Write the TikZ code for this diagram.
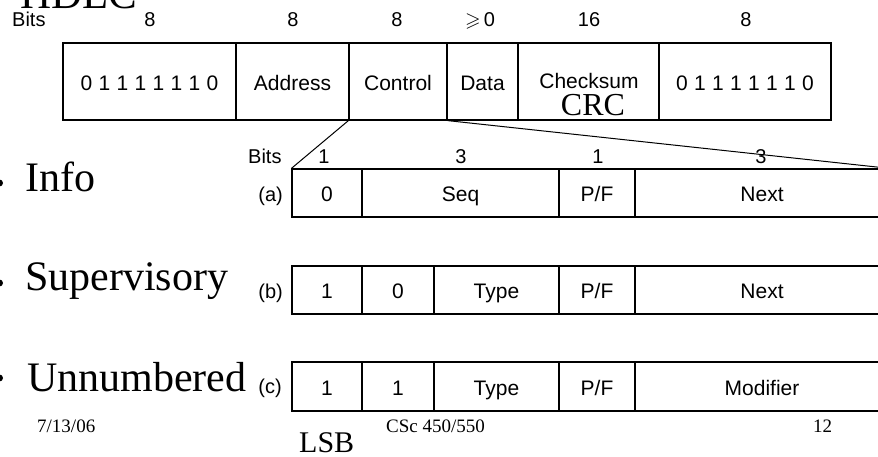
\documentclass[tikz,border=0pt]{standalone}
\usepackage{fontspec}
\usepackage{amssymb}
\setmainfont{Liberation Serif}
\setsansfont{Liberation Sans}
\begin{document}
\begin{tikzpicture}[x=1pt,y=-1pt,
  cell/.style={draw, line width=1.2pt, inner sep=0pt, text height=17pt, text depth=0pt,
    font=\sffamily\fontsize{21}{21}\selectfont},
  bitlbl/.style={anchor=base, inner sep=0pt, font=\sffamily\fontsize{20}{20}\selectfont},
  big/.style={anchor=base west, inner sep=0pt, font=\fontsize{42}{42}\selectfont},
  foot/.style={anchor=base west, inner sep=0pt, font=\fontsize{19}{19}\selectfont},
  link/.style={line width=1pt},
  dot/.style={fill=black, circle, inner sep=0pt, minimum size=7pt}]
\clip (0,0) rectangle (878,456);
\newcommand\fcell[6]{\node[cell, minimum width={#3-#2}, minimum height={#5-#4}] (#1) at ({(#2+#3)/2},{(#4+#5)/2}) {#6};}
\newcommand\flagbits{0\hspace{0.3em}1\hspace{0.3em}1\hspace{0.3em}1\hspace{0.3em}1\hspace{0.3em}1\hspace{0.3em}1\hspace{0.3em}0}
% title
\node[big, font=\fontsize{43}{43}\selectfont] (title) at (20,8) {HDLC};
% top frame
\node[bitlbl, anchor=base west] (bitsA) at (12,26) {Bits};
\node[bitlbl] (bA1) at (150,26) {8};
\node[bitlbl] (bA2) at (293,26) {8};
\node[bitlbl] (bA3) at (397,26) {8};
\node[bitlbl] (bA4) at (480,26) {$\geqslant$\,0};
\node[bitlbl] (bA5) at (589,26) {16};
\node[bitlbl] (bA6) at (746,26) {8};
\fcell{f1}{63}{236}{43}{120}{\flagbits}
\fcell{f2}{236}{349}{43}{120}{Address}
\fcell{ctrl}{349}{447}{43}{120}{Control}
\fcell{f4}{447}{518}{43}{120}{Data}
\fcell{f5}{518}{659}{43}{120}{}
\fcell{f6}{659}{831}{43}{120}{\flagbits}
\node[bitlbl, font=\sffamily\fontsize{21}{21}\selectfont] (chk) at (589,88) {Checksum};
\node[anchor=base, inner sep=0pt, font=\fontsize{32}{32}\selectfont] (crc) at (593,115) {CRC};
% control field formats
\node[bitlbl, anchor=base west] (bitsB) at (248,163) {Bits};
\node[bitlbl] (bB1) at (324,163) {1};
\node[bitlbl] (bB2) at (461,163) {3};
\node[bitlbl] (bB3) at (598,163) {1};
\node[bitlbl] (bB4) at (761,163) {3};
% (a)
\fcell{a1}{292}{362}{169}{217}{0}
\fcell{a2}{362}{559}{169}{217}{Seq}
\fcell{a3}{559}{635}{169}{217}{P/F}
\fcell{a4}{635}{889}{169}{217}{Next}
% (b)
\fcell{b1}{292}{362}{266}{314}{1}
\fcell{b2}{362}{434}{266}{314}{0}
\fcell{b3}{434}{559}{266}{314}{Type}
\fcell{b4}{559}{635}{266}{314}{P/F}
\fcell{b5}{635}{889}{266}{314}{Next}
% (c)
\fcell{c1}{292}{362}{362}{411}{1}
\fcell{c2}{362}{434}{362}{411}{1}
\fcell{c3}{434}{559}{362}{411}{Type}
\fcell{c4}{559}{635}{362}{411}{P/F}
\fcell{c5}{635}{889}{362}{411}{Modifier}
\node[bitlbl, anchor=base east] (la) at (283,201) {(a)};
\node[bitlbl, anchor=base east] (lb) at (283,298) {(b)};
\node[bitlbl, anchor=base east] (lc) at (282,393) {(c)};
% expansion lines
\draw[link] (ctrl.south west) -- (a1.north west);
\draw[link] (ctrl.south east) -- (a4.north east);
% bullets and names
\node[dot] (d1) at (-0.5,183) {};
\node[dot] (d2) at (-0.5,283) {};
\node[dot] (d3) at (-0.5,378) {};
\node[big] (info) at (25,191) {Info};
\node[big] (sup) at (25,290) {Supervisory};
\node[big] (unn) at (27,391) {Unnumbered};
% footer
\node[foot] (date) at (37,432) {7/13/06};
\node[foot] (course) at (386,432) {CSc 450/550};
\node[foot] (page) at (813,432) {12};
\node[anchor=base west, inner sep=0pt, font=\fontsize{30}{30}\selectfont] (lsb) at (299,452) {LSB};
\end{tikzpicture}
\end{document}
